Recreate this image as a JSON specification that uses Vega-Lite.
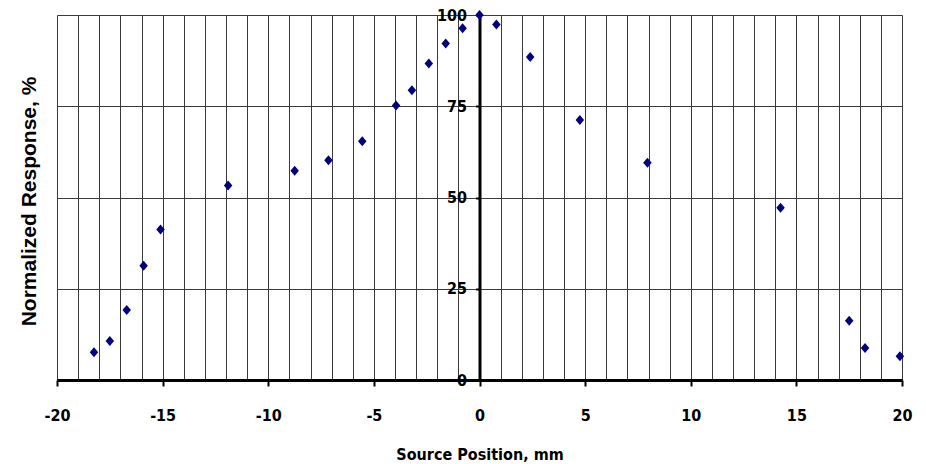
{
  "$schema": "https://vega.github.io/schema/vega-lite/v6.json",
  "width": 845,
  "height": 365,
  "autosize": {"type": "none"},
  "padding": {"left": 57, "top": 15, "right": 24, "bottom": 84},
  "background": "white",
  "config": {"view": {"stroke": null}},
  "data": {
    "values": [
      {"pos": -18.25, "resp": 7.6},
      {"pos": -17.5, "resp": 10.7},
      {"pos": -16.7, "resp": 19.2},
      {"pos": -15.9, "resp": 31.3},
      {"pos": -15.1, "resp": 41.2},
      {"pos": -11.9, "resp": 53.3},
      {"pos": -8.75, "resp": 57.3},
      {"pos": -7.15, "resp": 60.2},
      {"pos": -5.55, "resp": 65.4},
      {"pos": -3.95, "resp": 75.2},
      {"pos": -3.2, "resp": 79.4},
      {"pos": -2.4, "resp": 86.7},
      {"pos": -1.6, "resp": 92.2},
      {"pos": -0.8, "resp": 96.4},
      {"pos": 0, "resp": 100},
      {"pos": 0.8, "resp": 97.4},
      {"pos": 2.4, "resp": 88.5},
      {"pos": 4.75, "resp": 71.2},
      {"pos": 7.95, "resp": 59.5},
      {"pos": 14.25, "resp": 47.2},
      {"pos": 17.5, "resp": 16.2},
      {"pos": 18.25, "resp": 8.8},
      {"pos": 19.9, "resp": 6.5}
    ]
  },
  "mark": {
    "type": "point",
    "shape": "M0,-1L0.85,0L0,1L-0.85,0Z",
    "filled": true,
    "size": 100,
    "color": "#000080",
    "opacity": 1
  },
  "encoding": {
    "x": {
      "field": "pos",
      "type": "quantitative",
      "scale": {"domain": [-20, 20], "nice": false, "zero": false},
      "axis": {
        "title": "Source Position, mm",
        "values": [-20,-19,-18,-17,-16,-15,-14,-13,-12,-11,-10,-9,-8,-7,-6,-5,-4,-3,-2,-1,0,1,2,3,4,5,6,7,8,9,10,11,12,13,14,15,16,17,18,19,20],
        "labelExpr": "datum.value % 5 === 0 ? '' + datum.value : ''",
        "labelOverlap": false,
        "labelFlush": false,
        "labelFont": "DejaVu Sans Condensed",
        "labelFontSize": 16,
        "labelFontWeight": "bold",
        "labelColor": "#000",
        "labelPadding": 21,
        "tickSize": 6,
        "tickWidth": 2,
        "tickColor": "#000",
        "tickOpacity": {"condition": {"test": "datum.value % 5 === 0", "value": 1}, "value": 0},
        "domainColor": "#000",
        "domainWidth": 3,
        "grid": true,
        "gridColor": "#3a3a3a",
        "gridWidth": 1,
        "gridOpacity": 1,
        "titleFont": "DejaVu Sans Condensed",
        "titleFontSize": 16,
        "titleFontWeight": "bold",
        "titleColor": "#000",
        "titleBaseline": "alphabetic",
        "titleY": 79
      }
    },
    "y": {
      "field": "resp",
      "type": "quantitative",
      "scale": {"domain": [0, 100], "nice": false},
      "axis": {
        "title": "Normalized Response, %",
        "values": [0, 25, 50, 75, 100],
        "offset": -422.5,
        "labelFlush": false,
        "labelOverlap": false,
        "labelFont": "DejaVu Sans Condensed",
        "labelFontSize": 16,
        "labelFontWeight": "bold",
        "labelColor": "#000",
        "labelPadding": 9,
        "tickSize": 4,
        "tickWidth": 2,
        "tickColor": "#000",
        "domainColor": "#000",
        "domainWidth": 3,
        "grid": true,
        "gridColor": "#3a3a3a",
        "gridWidth": 1,
        "gridOpacity": 1,
        "titleFont": "Liberation Sans",
        "titleFontSize": 21,
        "titleFontWeight": "bold",
        "titleColor": "#000",
        "titleAngle": 270,
        "titleAlign": "center",
        "titleBaseline": "middle",
        "titleX": -450,
        "titleY": 186
      }
    }
  }
}
